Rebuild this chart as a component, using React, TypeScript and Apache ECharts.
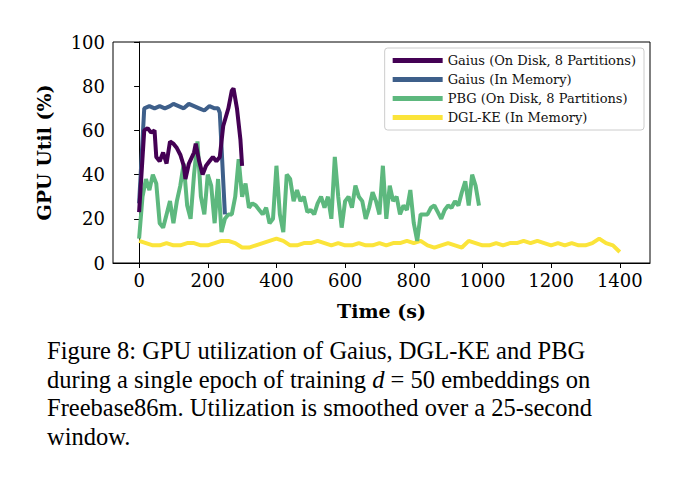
import React, { useEffect, useRef } from "react";
import * as echarts from "echarts";

// Gaius (On Disk, 8 Partitions): [time s, util %]
const gaiusDisk: [number, number][] = [
  [0, 23], [15, 60], [25, 61], [35, 59], [45, 60], [50, 48], [60, 46], [70, 50],
  [80, 45], [90, 55], [100, 54], [110, 52], [120, 49], [130, 44], [135, 38],
  [145, 45], [160, 50], [165, 54], [175, 46], [185, 40], [195, 44], [205, 46],
  [215, 48], [225, 46], [235, 48], [245, 62], [260, 70], [270, 78], [275, 79],
  [285, 70], [295, 56], [300, 44],
];

// Gaius (In Memory)
const gaiusMem: [number, number][] = [
  [0, 27], [15, 70], [30, 71], [45, 70], [60, 71], [75, 70], [90, 71], [100, 72],
  [115, 71], [130, 70], [145, 72], [160, 71], [175, 70], [190, 69], [205, 71],
  [220, 70], [230, 70], [235, 68], [250, 22],
];

// PBG (On Disk, 8 Partitions), sampled every 10 s from 0
const pbgVals = [
  11, 30, 38, 33, 40, 36, 18, 16, 22, 28, 18, 28, 35, 45, 26, 20, 40, 55, 30, 22,
  40, 35, 18, 38, 14, 20, 22, 22, 30, 47, 30, 36, 25, 27, 26, 24, 22, 25, 18, 20,
  44, 22, 14, 40, 38, 28, 33, 28, 30, 23, 24, 22, 27, 30, 25, 30, 20, 48, 30, 16,
  28, 30, 25, 35, 30, 28, 20, 25, 32, 28, 22, 44, 20, 35, 28, 30, 22, 26, 24, 33,
  18, 10, 22, 22, 22, 25, 26, 23, 20, 24, 26, 25, 28, 26, 32, 37, 26, 40, 35, 26,
];

// DGL-KE (In Memory), sampled every 20 s from 0
const dglVals = [
  10, 9, 8, 8, 9, 8, 8, 9, 9, 8, 8, 9, 10, 10, 9, 7, 7, 8, 9, 10,
  11, 10, 8, 8, 9, 9, 10, 9, 8, 9, 8, 8, 9, 8, 8, 9, 8, 9, 9, 10,
  9, 10, 8, 7, 8, 9, 8, 7, 10, 9, 8, 8, 9, 8, 9, 9, 10, 9, 10, 9,
  8, 9, 8, 9, 8, 8, 9, 11, 9, 8, 5,
];

const xTicks = [0, 200, 400, 600, 800, 1000, 1200, 1400];

const names = [
  "Gaius (On Disk, 8 Partitions)",
  "Gaius (In Memory)",
  "PBG (On Disk, 8 Partitions)",
  "DGL-KE (In Memory)",
];
const colors = ["#440154", "#3e5f8a", "#5db87e", "#fbe43a"];

export default function App() {
  const ref = useRef<HTMLDivElement>(null);

  useEffect(() => {
    if (!ref.current) return;
    const chart = echarts.init(ref.current, null, { renderer: "svg" });
    const serif = "DejaVu Serif";
    const datasets = [
      gaiusDisk,
      gaiusMem,
      pbgVals.map((v, i) => [i * 10, v]),
      dglVals.map((v, i) => [i * 20, v]),
    ];

    chart.setOption({
      animation: false,
      grid: { left: 113, right: 30, top: 42, bottom: 226 },
      legend: {
        orient: "vertical",
        right: 36,
        top: 48,
        data: names,
        icon: "rect",
        itemWidth: 50,
        itemHeight: 5,
        itemGap: 6,
        padding: [6, 8, 6, 8],
        borderColor: "#cccccc",
        borderWidth: 1,
        borderRadius: 3,
        textStyle: { fontFamily: serif, fontSize: 13, color: "#111" },
      },
      xAxis: {
        type: "value",
        min: -76,
        max: 1488,
        name: "Time (s)",
        nameLocation: "middle",
        nameGap: 38,
        nameTextStyle: { fontFamily: serif, fontWeight: "bold", fontSize: 19, color: "#000" },
        axisLine: { onZero: false, lineStyle: { color: "#000", width: 1 } },
        axisTick: { customValues: xTicks, length: 5, lineStyle: { color: "#000" } },
        axisLabel: {
          customValues: xTicks,
          formatter: (v: number) => String(v),
          fontFamily: serif,
          fontSize: 18,
          color: "#000",
          margin: 8,
        },
        splitLine: { show: false },
      },
      yAxis: {
        type: "value",
        min: 0,
        max: 100,
        interval: 20,
        name: "GPU Util (%)",
        nameLocation: "middle",
        nameGap: 60,
        nameTextStyle: { fontFamily: serif, fontWeight: "bold", fontSize: 19, color: "#000" },
        axisLine: { show: true, lineStyle: { color: "#000", width: 1 } },
        axisTick: { show: true, length: 5, lineStyle: { color: "#000" } },
        axisLabel: { fontFamily: serif, fontSize: 18, color: "#000", margin: 8 },
        splitLine: { show: false },
      },
      graphic: [
        {
          type: "rect",
          shape: { x: 113, y: 42, width: 537, height: 221 },
          style: { fill: "none", stroke: "#000", lineWidth: 1 },
          silent: true,
          z: 100,
        },
      ],
      series: names.map((n, i) => ({
        name: n,
        type: "line",
        data: datasets[i],
        symbol: "none",
        z: 10 - i,
        lineStyle: { color: colors[i], width: 4 },
        itemStyle: { color: colors[i] },
      })),
    });

    return () => chart.dispose();
  }, []);

  return (
    <div style={{ position: "absolute", left: 0, top: 0, width: 680, height: 489, background: "#fff" }}>
      <div ref={ref} style={{ position: "absolute", left: 0, top: 0, width: 680, height: 489 }} />
      <div
        style={{
          position: "absolute",
          left: 47,
          top: 337,
          width: 630,
          fontFamily: "Liberation Serif",
          fontSize: 24.5,
          lineHeight: "28.5px",
          color: "#000",
          whiteSpace: "nowrap",
        }}
      >
        Figure 8: GPU utilization of Gaius, DGL-KE and PBG
        <br />
        during a single epoch of training <i>d</i> = 50 embeddings on
        <br />
        Freebase86m. Utilization is smoothed over a 25-second
        <br />
        window.
      </div>
    </div>
  );
}
